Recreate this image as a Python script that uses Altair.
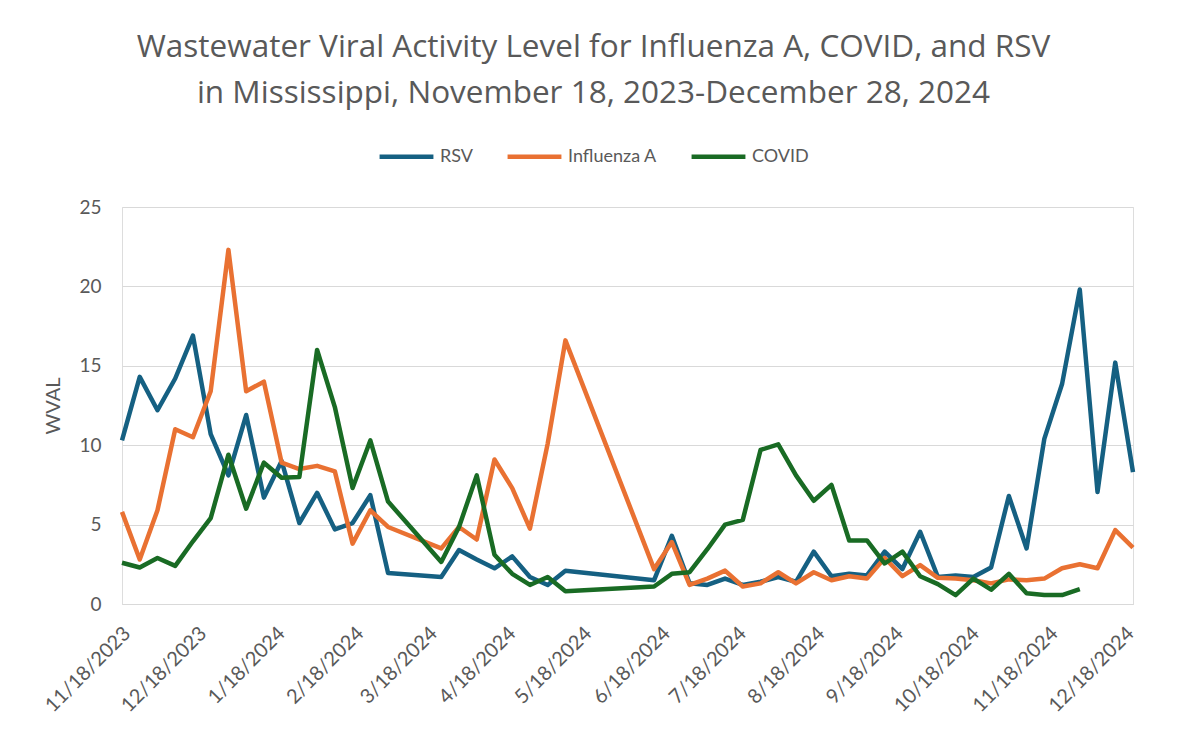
import altair as alt
import pandas as pd

# Weekly sampling grid (first week and number of weeks shown)
first_week = "2023-11-18"
n_weeks = 58

series_names = ["RSV", "Influenza A", "COVID"]
series_colors = ["#156082", "#E97132", "#196B24"]

rsv = [10.3, 14.3, 12.2, 14.2, 16.9, 10.7, 8.1, 11.9, 6.7, 9.0,
       5.1, 7.0, 4.7, 5.1, 6.85, 1.95, None, None, 1.7, 3.4,
       2.8, 2.25, 3.0, 1.7, 1.2, 2.1, None, None, None, None,
       1.5, 4.3, 1.3, 1.2, 1.6, 1.2, 1.4, 1.7, 1.4, 3.3,
       1.75, 1.9, 1.8, 3.3, 2.2, 4.55, 1.7, 1.8, 1.7, 2.3,
       6.8, 3.5, 10.4, 13.85, 19.8, 7.05, 15.2, 8.3]

flu = [5.8, 2.8, 5.9, 11.0, 10.5, 13.4, 22.3, 13.4, 14.0, 8.9,
       8.5, 8.7, 8.35, 3.8, 5.9, 4.85, None, None, 3.5, 4.85,
       4.06, 9.1, 7.3, 4.75, 10.1, 16.6, None, None, None, None,
       2.2, 3.9, 1.2, 1.6, 2.1, 1.1, 1.3, 2.0, 1.3, 2.0,
       1.5, 1.75, 1.6, 2.9, 1.75, 2.45, 1.65, 1.6, 1.5, 1.3,
       1.55, 1.5, 1.6, 2.25, 2.5, 2.25, 4.65, 3.55]

covid = [2.6, 2.3, 2.9, 2.4, 3.95, 5.4, 9.4, 6.0, 8.9, 7.95,
         8.0, 16.0, 12.4, 7.3, 10.3, 6.45, None, None, 2.65, 4.85,
         8.1, 3.1, 1.9, 1.2, 1.7, 0.8, None, None, None, None,
         1.1, 1.9, 2.0, 3.45, 5.0, 5.3, 9.7, 10.05, 8.1, 6.5,
         7.5, 4.0, 4.0, 2.55, 3.3, 1.75, 1.25, 0.56, 1.6, 0.9,
         1.9, 0.67, 0.56, 0.56, 0.94, None, None, None]

tick_dates = ["2023-11-18", "2023-12-18", "2024-01-18", "2024-02-18",
              "2024-03-18", "2024-04-18", "2024-05-18", "2024-06-18",
              "2024-07-18", "2024-08-18", "2024-09-18", "2024-10-18",
              "2024-11-18", "2024-12-18"]
domain_dates = ["2023-11-18", "2024-12-21"]
y_ticks = [0, 5, 10, 15, 20, 25]

title_lines = ["Wastewater Viral Activity Level for Influenza A, COVID, and RSV",
               "in Mississippi, November 18, 2023-December 28, 2024"]

FONT = "Lato"
TITLE_FONT = "Open Sans"
GRAY = "#595959"


def dt(s):
    d = pd.Timestamp(s)
    return alt.DateTime(year=d.year, month=d.month, date=d.day)


weeks = pd.date_range(first_week, periods=n_weeks, freq="7D")
rows = []
for name, vals in zip(series_names, [rsv, flu, covid]):
    for d, v in zip(weeks, vals):
        if v is not None:
            rows.append({"date": d.strftime("%Y-%m-%dT00:00:00"), "series": name, "wval": v})
df = pd.DataFrame(rows)

x_enc = alt.X(
    "date:T",
    scale=alt.Scale(domain=[dt(s) for s in domain_dates], nice=False),
    axis=alt.Axis(
        values=[dt(s) for s in tick_dates],
        format="%-m/%-d/%Y",
        labelAngle=-45,
        labelAlign="right",
        labelBaseline="middle",
        labelPadding=26,
        labelOffset=5,
        labelFlush=False,
        labelOverlap=False,
        labelFont=FONT,
        labelFontSize=20,
        labelColor=GRAY,
        ticks=False,
        grid=False,
        domainColor="#d9d9d9",
        domainWidth=1.2,
        title=None,
    ),
)
y_enc = alt.Y(
    "wval:Q",
    scale=alt.Scale(domain=[0, 25], nice=False),
    axis=alt.Axis(
        values=y_ticks,
        domain=False,
        ticks=False,
        grid=True,
        gridColor="#d9d9d9",
        gridWidth=1.2,
        labelPadding=21,
        labelFont=FONT,
        labelFontSize=19,
        labelColor=GRAY,
        title="WVAL",
        titleFont=FONT,
        titleFontSize=20,
        titleFontWeight="normal",
        titleColor=GRAY,
        titlePadding=15,
    ),
)
color_enc = alt.Color(
    "series:N",
    scale=alt.Scale(domain=series_names, range=series_colors),
    legend=alt.Legend(
        orient="none",
        legendX=255,
        legendY=-80,
        direction="horizontal",
        columns=3,
        title=None,
        symbolType="stroke",
        symbolSize=2900,
        symbolStrokeWidth=4.5,
        labelFont=FONT,
        labelFontSize=18,
        labelColor=GRAY,
        labelOffset=4,
        columnPadding=25,
        padding=0,
    ),
)

layers = []
for name in series_names:
    layers.append(
        alt.Chart(df)
        .transform_filter(alt.datum.series == name)
        .mark_line(strokeWidth=4.5, strokeJoin="round", strokeCap="butt")
        .encode(x=x_enc, y=y_enc, color=color_enc)
    )

chart = (
    alt.layer(*layers)
    .properties(
        width=1011,
        height=397,
        autosize=alt.AutoSizeParams(type="none"),
        padding={"left": 114, "top": 199, "right": 40, "bottom": 120},
        title=alt.TitleParams(
            text=title_lines,
            font=TITLE_FONT,
            fontSize=31.5,
            fontWeight="normal",
            color=GRAY,
            anchor="middle",
            lineHeight=46,
            offset=18,
            dx=-34,
        ),
    )
    .configure_view(stroke=None)
    .configure(background="white")
)

chart.save("out.html", embed_options={"renderer": "svg", "actions": False})
